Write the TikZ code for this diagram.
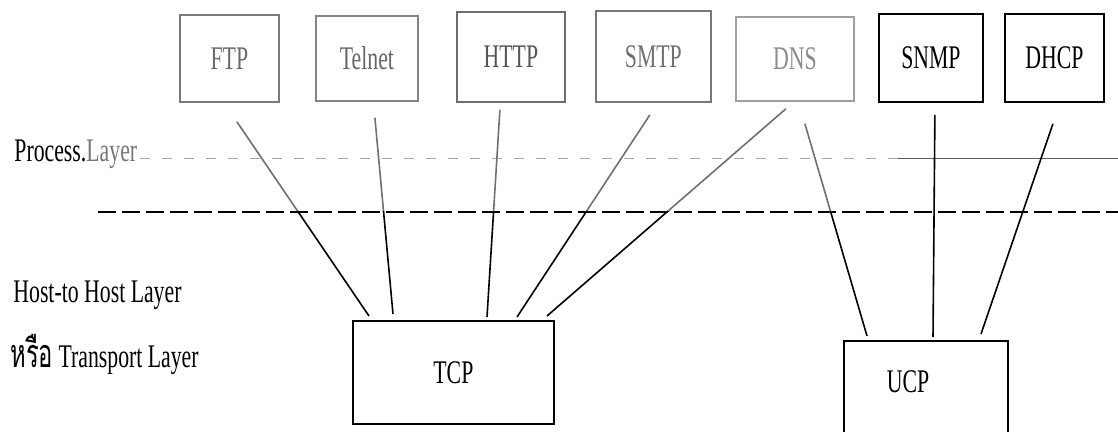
\documentclass[tikz,border=0pt]{standalone}
\usepackage{fontspec}
\setmainfont[FakeStretch=0.66]{Liberation Serif}
\newfontfamily\thaifont[Script=Thai,Scale=1.2,FakeStretch=0.6]{Loma}
\usetikzlibrary{calc}

\definecolor{ftpgray}{HTML}{7A7A7A}
\definecolor{ftptext}{HTML}{6A6A6A}
\definecolor{telnetgray}{HTML}{858585}
\definecolor{telnettext}{HTML}{666666}
\definecolor{httpgray}{HTML}{6E6E6E}
\definecolor{httptext}{HTML}{555555}
\definecolor{smtpgray}{HTML}{787878}
\definecolor{smtptext}{HTML}{707070}
\definecolor{dnsgray}{HTML}{A0A0A0}
\definecolor{dnstext}{HTML}{8C8C8C}
\definecolor{fadeline}{HTML}{707070}
\definecolor{leadergray}{HTML}{A8A8A8}
\definecolor{leaderdark}{HTML}{5A5A5A}
\definecolor{layergray}{HTML}{777777}

\tikzset{
  lbl/.style={font=\fontsize{16.5}{19}\selectfont, inner sep=0pt},
  protobox/.style={draw, rectangle, anchor=north west, line width=0.9pt,
    font=\fontsize{16.5}{19}\selectfont, inner sep=0pt},
  link/.style={line width=0.8pt},
  layersep/.style={line width=1.2pt, dash pattern=on 9pt off 3pt},
  leader/.style={line width=0.5pt, color=leadergray, dash pattern=on 5pt off 6pt},
  leadersolid/.style={line width=0.5pt, color=leaderdark},
}

% connectors from the application protocols down to TCP / UCP
\newcommand{\protocollinks}[1]{%
  \draw[link,#1] ($(ftp.south)+(7.5,19)$) -- ($(tcp.north west)+(17,-4)$);
  \draw[link,#1] ($(telnet.south)+(8,16)$) -- ($(tcp.north west)+(41,-6)$);
  \draw[link,#1] ($(http.south)+(-11,7)$) -- ($(tcp.north west)+(135,-3)$);
  \draw[link,#1] ($(smtp.south)+(-3.5,12)$) -- ($(tcp.north west)+(165,-3)$);
  \draw[link,#1] ($(dns.south)+(-9,7)$) -- ($(tcp.north west)+(195,-4)$);
  \draw[link,#1] ($(dns.south)+(10,22)$) -- ($(ucp.north west)+(24,-4)$);
  \draw[link] ($(snmp.south)+(4,12)$) -- ($(ucp.north west)+(90,-3)$);
  \draw[link] ($(dhcp.south)+(-1.5,21)$) -- ($(ucp.north west)+(138,-6)$);
}

\begin{document}
\begin{tikzpicture}[x=0.5pt,y=-0.5pt]
  \useasboundingbox (0,0) rectangle (1118,432);
  \fill[white] (0,0) rectangle (1118,432);
  \clip (0,0) rectangle (1118,432);

  % application protocol boxes
  \node[protobox, draw=ftpgray, text=ftptext, minimum width=49.5pt, minimum height=43.5pt] (ftp) at (179,14) {FTP};
  \node[protobox, draw=telnetgray, text=telnettext, minimum width=51pt, minimum height=42.5pt] (telnet) at (315,15) {Telnet};
  \node[protobox, draw=httpgray, text=httptext, minimum width=54pt, minimum height=45pt] (http) at (456,11) {HTTP};
  \node[protobox, draw=smtpgray, text=smtptext, minimum width=57.5pt, minimum height=45.5pt] (smtp) at (595,10) {SMTP};
  \node[protobox, draw=dnsgray, text=dnstext, minimum width=59pt, minimum height=42pt] (dns) at (735,16) {DNS};
  \node[protobox, minimum width=52pt, minimum height=44pt] (snmp) at (878,13) {SNMP};
  \node[protobox, minimum width=49.5pt, minimum height=44pt] (dhcp) at (1004,13) {DHCP};

  % transport protocol boxes
  \node[protobox, minimum width=100.5pt, minimum height=51.5pt] (tcp) at (352,320) {TCP};
  \node[protobox, minimum width=82pt, minimum height=56pt] (ucp) at (843,340) {};
  \node[lbl] (ucplabel) at (908,382) {UCP};

  % layer names
  \node[lbl, anchor=base west] (process) at (14,162) {Process.\textcolor{layergray}{Layer}};
  \node[lbl, anchor=base west] (host) at (13,303) {Host-to Host Layer};
  \node[lbl, anchor=base west] (transport) at (10,368) {{\thaifont หรือ} Transport Layer};

  % leader after the process layer name
  \coordinate (leadmid) at (898,159);
  \coordinate (leadend) at (1118,159);
  \draw[leader] ($(process.base east)+(2,-3)$) -- (leadmid);
  \draw[leadersolid] (leadmid) -- (leadend);

  % boundary between the process and host-to-host layers
  \coordinate (sepleft) at (98,212);
  \coordinate (sepright) at (1118,212);
  \draw[layersep] (sepleft) -- (sepright);

  % connectors: faded above the boundary, black below it
  \begin{scope}
    \clip (0,0) rectangle (1118,212);
    \protocollinks{fadeline}
  \end{scope}
  \begin{scope}
    \clip (0,212) rectangle (1118,432);
    \protocollinks{black}
  \end{scope}
\end{tikzpicture}
\end{document}
